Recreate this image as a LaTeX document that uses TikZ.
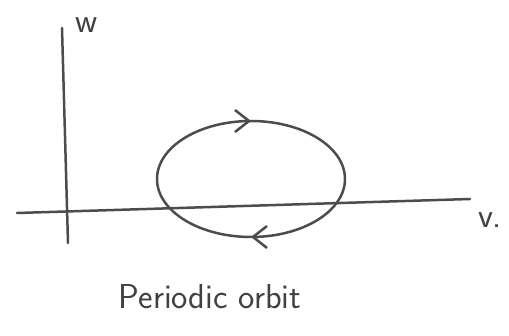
\documentclass[tikz,border=0pt]{standalone}
\usepackage{fontspec}
\usetikzlibrary{arrows.meta,decorations.markings}

\begin{document}
\begin{tikzpicture}[x=0.5pt,y=-0.5pt,>=stealth,
  pen/.style={draw=black!70,line width=1.25pt,line cap=round},
  hand/.style={text=black!75,font=\sffamily}]
  \useasboundingbox (0,0) rectangle (509,336);
  % axes
  \draw[pen] (17,213) -- (470,199);
  \draw[pen] (62,28) -- (68,243);
  \node[hand,font=\sffamily\LARGE] (wlab) at (87,25) {w};
  \node[hand,font=\sffamily\LARGE] (vlab) at (490,220) {v.};
  % orbit
  \draw[pen,decoration={markings,
      mark=at position 0.25 with {\arrow{Straight Barb[length=7pt,width=11pt]}},
      mark=at position 0.75 with {\arrow{Straight Barb[length=7pt,width=11pt]}}},
    postaction={decorate}]
    (251,179) ellipse [x radius=94, y radius=58];
  \node[hand,font=\sffamily\LARGE] (caption) at (210,297) {Periodic orbit};
\end{tikzpicture}
\end{document}
